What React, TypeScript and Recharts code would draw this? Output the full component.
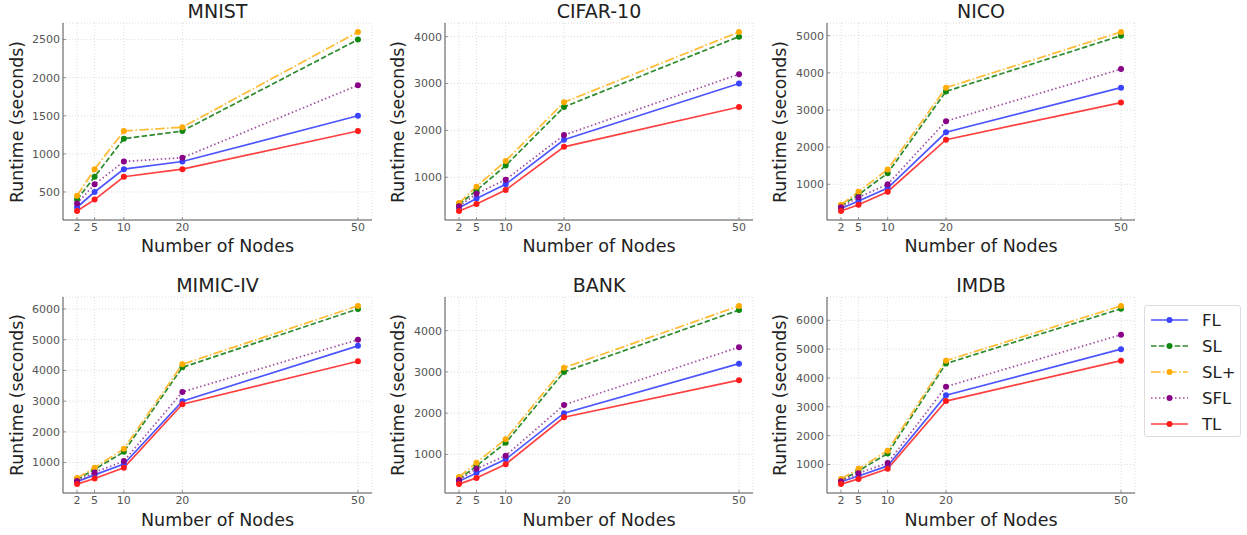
import React from 'react';
import { LineChart, Line, XAxis, YAxis, CartesianGrid } from 'recharts';

const nodes = [2, 5, 10, 20, 50];
const seriesNames = ['FL', 'SL', 'SL+', 'SFL', 'TL'];
const datasetNames = ['MNIST', 'CIFAR-10', 'NICO', 'MIMIC-IV', 'BANK', 'IMDB'];

const mnistFL = [300, 500, 800, 900, 1500];
const mnistSL = [400, 700, 1200, 1300, 2500];
const mnistSLp = [450, 800, 1300, 1350, 2600];
const mnistSFL = [350, 600, 900, 950, 1900];
const mnistTL = [250, 400, 700, 800, 1300];

const cifarFL = [350, 550, 850, 1800, 3000];
const cifarSL = [420, 720, 1250, 2500, 4000];
const cifarSLp = [450, 800, 1350, 2600, 4100];
const cifarSFL = [380, 650, 950, 1900, 3200];
const cifarTL = [280, 430, 730, 1650, 2500];

const nicoFL = [350, 550, 900, 2400, 3600];
const nicoSL = [420, 720, 1300, 3500, 5000];
const nicoSLp = [450, 800, 1400, 3600, 5100];
const nicoSFL = [380, 650, 1000, 2700, 4100];
const nicoTL = [280, 450, 800, 2200, 3200];

const mimicFL = [380, 600, 950, 3000, 4800];
const mimicSL = [450, 780, 1350, 4100, 6000];
const mimicSLp = [500, 830, 1450, 4200, 6100];
const mimicSFL = [400, 680, 1050, 3300, 5000];
const mimicTL = [300, 480, 830, 2900, 4300];

const bankFL = [350, 550, 880, 2000, 3200];
const bankSL = [400, 720, 1280, 3000, 4500];
const bankSLp = [450, 800, 1370, 3100, 4600];
const bankSFL = [380, 650, 970, 2200, 3600];
const bankTL = [280, 430, 760, 1900, 2800];

const imdbFL = [400, 600, 950, 3400, 5000];
const imdbSL = [450, 780, 1380, 4500, 6400];
const imdbSLp = [500, 850, 1480, 4600, 6500];
const imdbSFL = [420, 700, 1050, 3700, 5500];
const imdbTL = [320, 500, 850, 3200, 4600];

const mnistTicks = [500, 1000, 1500, 2000, 2500];
const cifarTicks = [1000, 2000, 3000, 4000];
const nicoTicks = [1000, 2000, 3000, 4000, 5000];
const mimicTicks = [1000, 2000, 3000, 4000, 5000, 6000];
const bankTicks = [1000, 2000, 3000, 4000];
const imdbTicks = [1000, 2000, 3000, 4000, 5000, 6000];

const allSeries = [
  [mnistFL, mnistSL, mnistSLp, mnistSFL, mnistTL],
  [cifarFL, cifarSL, cifarSLp, cifarSFL, cifarTL],
  [nicoFL, nicoSL, nicoSLp, nicoSFL, nicoTL],
  [mimicFL, mimicSL, mimicSLp, mimicSFL, mimicTL],
  [bankFL, bankSL, bankSLp, bankSFL, bankTL],
  [imdbFL, imdbSL, imdbSLp, imdbSFL, imdbTL],
];
const allTicks = [mnistTicks, cifarTicks, nicoTicks, mimicTicks, bankTicks, imdbTicks];

const styles = [
  { line: '#4d55ff', dot: '#3a44ff', dash: undefined },
  { line: '#2e8b2e', dot: '#118811', dash: '5.5 2.4' },
  { line: '#ffbb33', dot: '#ffaa00', dash: '9.6 2.4 1.5 2.4' },
  { line: '#a04da0', dot: '#880088', dash: '1.5 2.5' },
  { line: '#ff4040', dot: '#ff1a1a', dash: undefined },
];

const FONT = '"DejaVu Sans", sans-serif';
const colLeft = [63, 445, 827];
const colRight = [372, 753, 1135];
const rowTop = [23, 297];
const rowBottom = [220, 493];
const titleY = [11, 285];
const xLabelY = [246, 520];
const yLabelX = [17, 398, 780];
const YW = 50;
const XH = 30;

function Panel({ idx }: { idx: number }) {
  const col = idx % 3;
  const row = Math.floor(idx / 3);
  const pl = colLeft[col];
  const pr = colRight[col];
  const pt = rowTop[row];
  const pb = rowBottom[row];
  const series = allSeries[idx];
  const data = nodes.map((n, i) => {
    const o: Record<string, number> = { x: n };
    seriesNames.forEach((s, k) => {
      o[s] = series[k][i];
    });
    return o;
  });
  const flat = series.flat();
  const mn = Math.min(...flat);
  const mx = Math.max(...flat);
  const m = (mx - mn) * 0.05;
  const xm = (nodes[nodes.length - 1] - nodes[0]) * 0.05;
  const w = pr - pl + YW + 4;
  const h = pb - pt + 6 + XH;
  const cx = (pl + pr) / 2;
  const cy = (pt + pb) / 2;
  return (
    <>
      <div style={{ position: 'absolute', left: pl - YW, top: pt - 6 }}>
        <LineChart width={w} height={h} data={data} margin={{ top: 6, right: 4, left: 0, bottom: 0 }}>
          <CartesianGrid stroke="#d4d4d4" strokeDasharray="1 2" strokeWidth={0.8} />
          <XAxis
            dataKey="x"
            type="number"
            domain={[nodes[0] - xm, nodes[nodes.length - 1] + xm]}
            ticks={nodes}
            allowDataOverflow
            height={XH}
            tickLine={{ stroke: '#777', strokeWidth: 0.8 }}
            tickSize={-3}
            tickMargin={6}
            axisLine={{ stroke: '#555', strokeWidth: 1 }}
            tick={{ fontSize: 11, fill: '#555', fontFamily: FONT }}
            interval={0}
          />
          <YAxis
            type="number"
            domain={[mn - m, mx + m]}
            ticks={allTicks[idx]}
            allowDataOverflow
            width={YW}
            tickLine={{ stroke: '#777', strokeWidth: 0.8 }}
            tickSize={-3}
            tickMargin={6}
            axisLine={{ stroke: '#555', strokeWidth: 1 }}
            tick={{ fontSize: 11, fill: '#555', fontFamily: FONT }}
            interval={0}
          />
          {seriesNames.map((s, k) => (
            <Line
              key={s}
              type="linear"
              dataKey={s}
              stroke={styles[k].line}
              strokeWidth={1.7}
              strokeDasharray={styles[k].dash}
              dot={{ r: 3, fill: styles[k].dot, stroke: styles[k].dot, strokeWidth: 0, strokeDasharray: '' }}
              isAnimationActive={false}
            />
          ))}
        </LineChart>
      </div>
      <div style={{ position: 'absolute', left: cx, top: titleY[row], transform: 'translate(-50%,-50%)', fontFamily: FONT, fontSize: 19, color: '#222', whiteSpace: 'nowrap' }}>
        {datasetNames[idx]}
      </div>
      <div style={{ position: 'absolute', left: cx, top: xLabelY[row], transform: 'translate(-50%,-50%)', fontFamily: FONT, fontSize: 17.5, color: '#222', whiteSpace: 'nowrap' }}>
        Number of Nodes
      </div>
      <div style={{ position: 'absolute', left: yLabelX[col], top: cy, transform: 'translate(-50%,-50%) rotate(-90deg)', fontFamily: FONT, fontSize: 17.3, color: '#222', whiteSpace: 'nowrap' }}>
        Runtime (seconds)
      </div>
    </>
  );
}

function LegendBox() {
  return (
    <div style={{ position: 'absolute', left: 1144, top: 305, width: 97, height: 132, border: '1px solid #ddd', borderRadius: 3, background: '#fff', boxSizing: 'border-box' }}>
      {seriesNames.map((s, k) => (
        <div key={s} style={{ position: 'absolute', left: 0, top: 14 + k * 26 - 11, height: 22, width: 97, display: 'flex', alignItems: 'center' }}>
          <svg width={40} height={10} style={{ marginLeft: 5 }}>
            <line x1={1} y1={5} x2={38} y2={5} stroke={styles[k].line} strokeWidth={1.7} strokeDasharray={styles[k].dash} />
            <circle cx={19.5} cy={5} r={3} fill={styles[k].dot} />
          </svg>
          <span style={{ marginLeft: 12, fontFamily: FONT, fontSize: 16.5, color: '#222' }}>{s}</span>
        </div>
      ))}
    </div>
  );
}

export default function App() {
  return (
    <div style={{ position: 'absolute', left: 0, top: 0, width: 1247, height: 535, background: '#fff', overflow: 'hidden' }}>
      {[0, 1, 2, 3, 4, 5].map((i) => (
        <Panel key={i} idx={i} />
      ))}
      <LegendBox />
    </div>
  );
}
